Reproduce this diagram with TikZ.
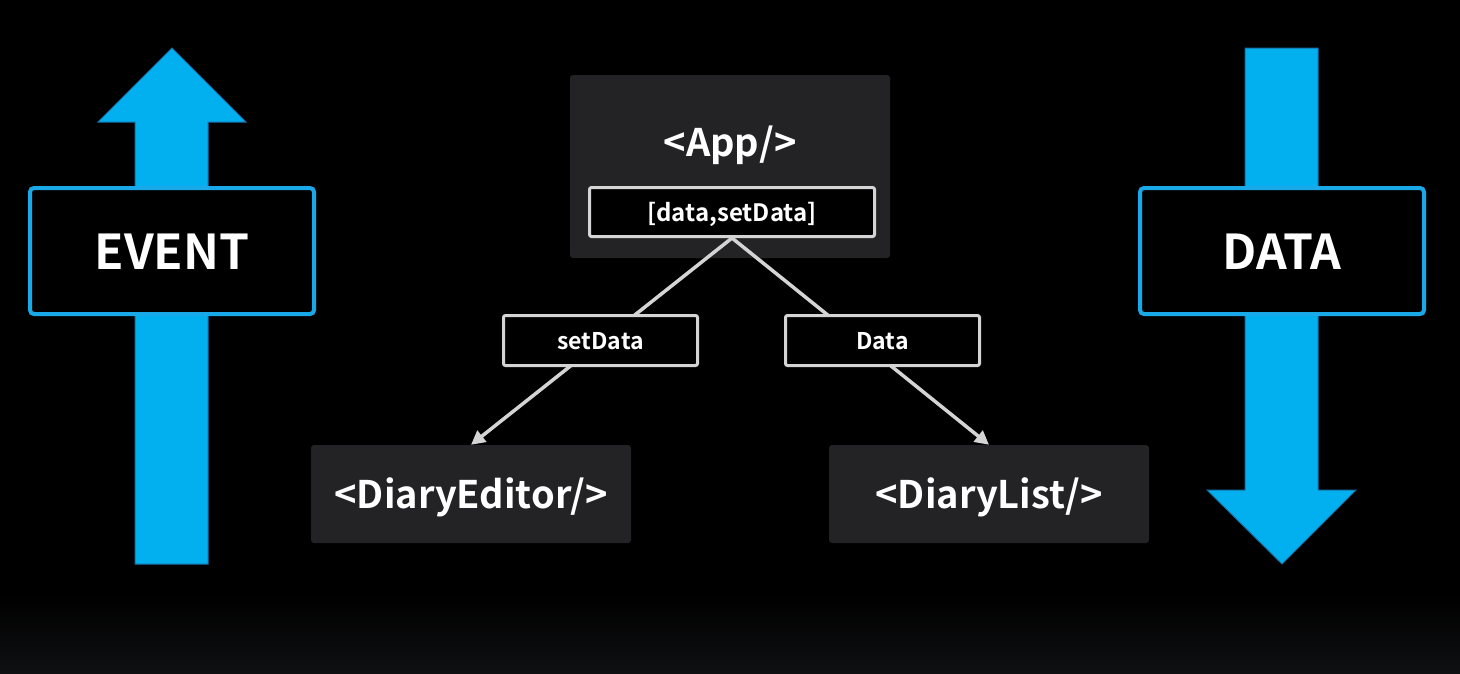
\documentclass[tikz,border=0pt]{standalone}
\usepackage{fontspec}
\setsansfont{Noto Sans CJK KR}[BoldFont={Noto Sans CJK KR Bold}]
\usetikzlibrary{arrows.meta}

\definecolor{sky}{HTML}{02AFEF}
\definecolor{skyedge}{HTML}{1B6FA6}
\definecolor{skyframe}{HTML}{19A8E8}
\definecolor{panel}{HTML}{232325}
\definecolor{wire}{HTML}{D4D4D4}
\definecolor{floor}{HTML}{0F1012}

\tikzset{
  flowbox/.style={draw=skyframe,line width=4pt,fill=black,rounded corners=4pt,
    minimum width=284pt,minimum height=126pt,text height=36pt,text depth=0pt,
    font=\sffamily\bfseries\fontsize{48}{48}\selectfont},
  compbox/.style={fill=panel,rounded corners=3pt,minimum width=320pt,minimum height=98pt,
    text height=28pt,text depth=0pt,font=\sffamily\bfseries\fontsize{38}{38}\selectfont},
  tagbox/.style={draw=wire,line width=3pt,fill=black,rounded corners=2pt,
    minimum width=194pt,minimum height=50pt,text height=17pt,text depth=0pt,
    font=\sffamily\bfseries\fontsize{23}{23}\selectfont},
  link/.style={draw=wire,line width=3.5pt,-{Triangle[length=14pt,width=14pt]}}
}

\begin{document}
\begin{tikzpicture}[x=1pt,y=-1pt,every node/.style={text=white,inner sep=0pt}]

  % background
  \useasboundingbox (0,0) rectangle (1460,673);
  \fill[black] (0,0) rectangle (1460,673);
  \shade[top color=black,bottom color=floor] (0,595) rectangle (1460,673);

  % big arrows
  \filldraw[fill=sky,draw=skyedge,line width=1pt]
    (135,564) -- (135,122) -- (98,122) -- (172,48) -- (246,122) -- (208,122) -- (208,564) -- cycle;
  \filldraw[fill=sky,draw=skyedge,line width=1pt]
    (1245,48) -- (1245,490) -- (1207,490) -- (1282,564) -- (1356,490) -- (1318,490) -- (1318,48) -- cycle;

  \node[flowbox] (event) at (172,251) {EVENT};
  \node[flowbox] (data) at (1282,251) {DATA};

  % components
  \node[compbox,minimum height=183pt] (app) at (730,166.5) {};
  \node[font=\sffamily\bfseries\fontsize{38}{38}\selectfont,anchor=base] (apptitle) at (730,156) {<App/>};
  \node[tagbox,minimum width=285pt,minimum height=49pt,text height=18pt,
    font=\sffamily\bfseries\fontsize{24}{24}\selectfont] (state) at (732,212) {[data,setData]};

  \node[compbox] (editor) at (471,494) {<DiaryEditor/>};
  \node[compbox] (list) at (989,494) {<DiaryList/>};

  \draw[link] (state.south) -- (editor.north);
  \draw[link] (state.south) -- (list.north);

  \node[tagbox] (setter) at (600.5,340.5) {setData};
  \node[tagbox] (getter) at (882.5,340.5) {Data};

\end{tikzpicture}
\end{document}
